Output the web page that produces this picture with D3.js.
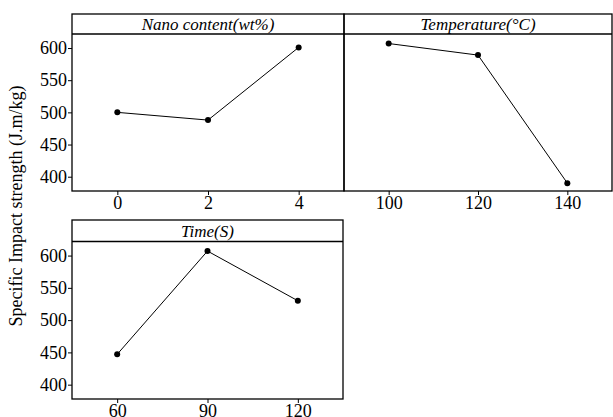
<!DOCTYPE html>
<html><head><meta charset="utf-8">
<script src="https://cdn.jsdelivr.net/npm/d3@7"></script>
<style>body{margin:0;background:#fff}svg{display:block}</style>
</head><body>
<script>
const panelTitles = ["Nano content(wt%)", "Temperature(\u00B0C)", "Time(S)"];
const nanoLevels = [0, 2, 4];
const nanoValues = [500, 488, 601];
const tempLevels = [100, 120, 140];
const tempValues = [607, 589, 390];
const timeLevels = [60, 90, 120];
const timeValues = [447, 607, 530];
const yTicks = [400, 450, 500, 550, 600];
const yLabel = "Specific Impact strength (J.m/kg)";

const W = 613, H = 417;
const FONT = '"Liberation Serif"';
const svg = d3.select("body").append("svg").attr("width", W).attr("height", H);

const panels = [
  {title: panelTitles[0], levels: nanoLevels, values: nanoValues, xd: [-1, 5], x0: 72, x1: 344, top: 14, stripB: 34, bot: 191, yAxis: true},
  {title: panelTitles[1], levels: tempLevels, values: tempValues, xd: [90, 150], x0: 344, x1: 612, top: 14, stripB: 34, bot: 191, yAxis: false},
  {title: panelTitles[2], levels: timeLevels, values: timeValues, xd: [45, 135], x0: 72, x1: 343, top: 220, stripB: 241.5, bot: 399, yAxis: true}
];

function styleAxis(a) {
  a.attr("font-family", null).attr("font-size", null);
  a.select(".domain").remove();
  a.selectAll("text").style("font-family", FONT).style("font-size", "18px").attr("fill", "#000");
  a.selectAll("line").attr("stroke", "#000");
}

panels.forEach(p => {
  const x = d3.scaleLinear().domain(p.xd).range([p.x0, p.x1]);
  const y = d3.scaleLinear().domain([377.8, 621.8]).range([p.bot, p.stripB]);
  const g = svg.append("g");
  const xa = g.append("g").attr("transform", `translate(0,${p.bot})`)
    .call(d3.axisBottom(x).tickValues(p.levels).tickFormat(d3.format("d")).tickSize(4).tickPadding(1).tickSizeOuter(0));
  styleAxis(xa);
  if (p.yAxis) {
    const ya = g.append("g").attr("transform", `translate(${p.x0},0)`)
      .call(d3.axisLeft(y).tickValues(yTicks).tickFormat(d3.format("d")).tickSize(4).tickPadding(1).tickSizeOuter(0));
    styleAxis(ya);
  }
  const pts = p.levels.map((l, i) => [l, p.values[i]]);
  g.append("path").datum(pts)
    .attr("d", d3.line().x(d => x(d[0])).y(d => y(d[1])))
    .attr("fill", "none").attr("stroke", "#000").attr("stroke-width", 1);
  g.selectAll("circle").data(pts).join("circle")
    .attr("cx", d => x(d[0])).attr("cy", d => y(d[1])).attr("r", 3).attr("fill", "#000");
  g.append("rect").attr("x", p.x0).attr("y", p.top).attr("width", p.x1 - p.x0).attr("height", p.bot - p.top)
    .attr("fill", "none").attr("stroke", "#000").attr("stroke-width", 1.3);
  g.append("line").attr("x1", p.x0).attr("x2", p.x1).attr("y1", p.stripB).attr("y2", p.stripB)
    .attr("stroke", "#000").attr("stroke-width", 1.3);
  g.append("text").attr("x", (p.x0 + p.x1) / 2).attr("y", (p.top + p.stripB) / 2 + 6)
    .attr("text-anchor", "middle").style("font-family", FONT).style("font-style", "italic")
    .style("font-size", "17px").text(p.title);
});

svg.append("text").attr("transform", "translate(22,206) rotate(-90)")
  .attr("text-anchor", "middle").style("font-family", FONT).style("font-size", "18px").text(yLabel);
</script>
</body></html>
